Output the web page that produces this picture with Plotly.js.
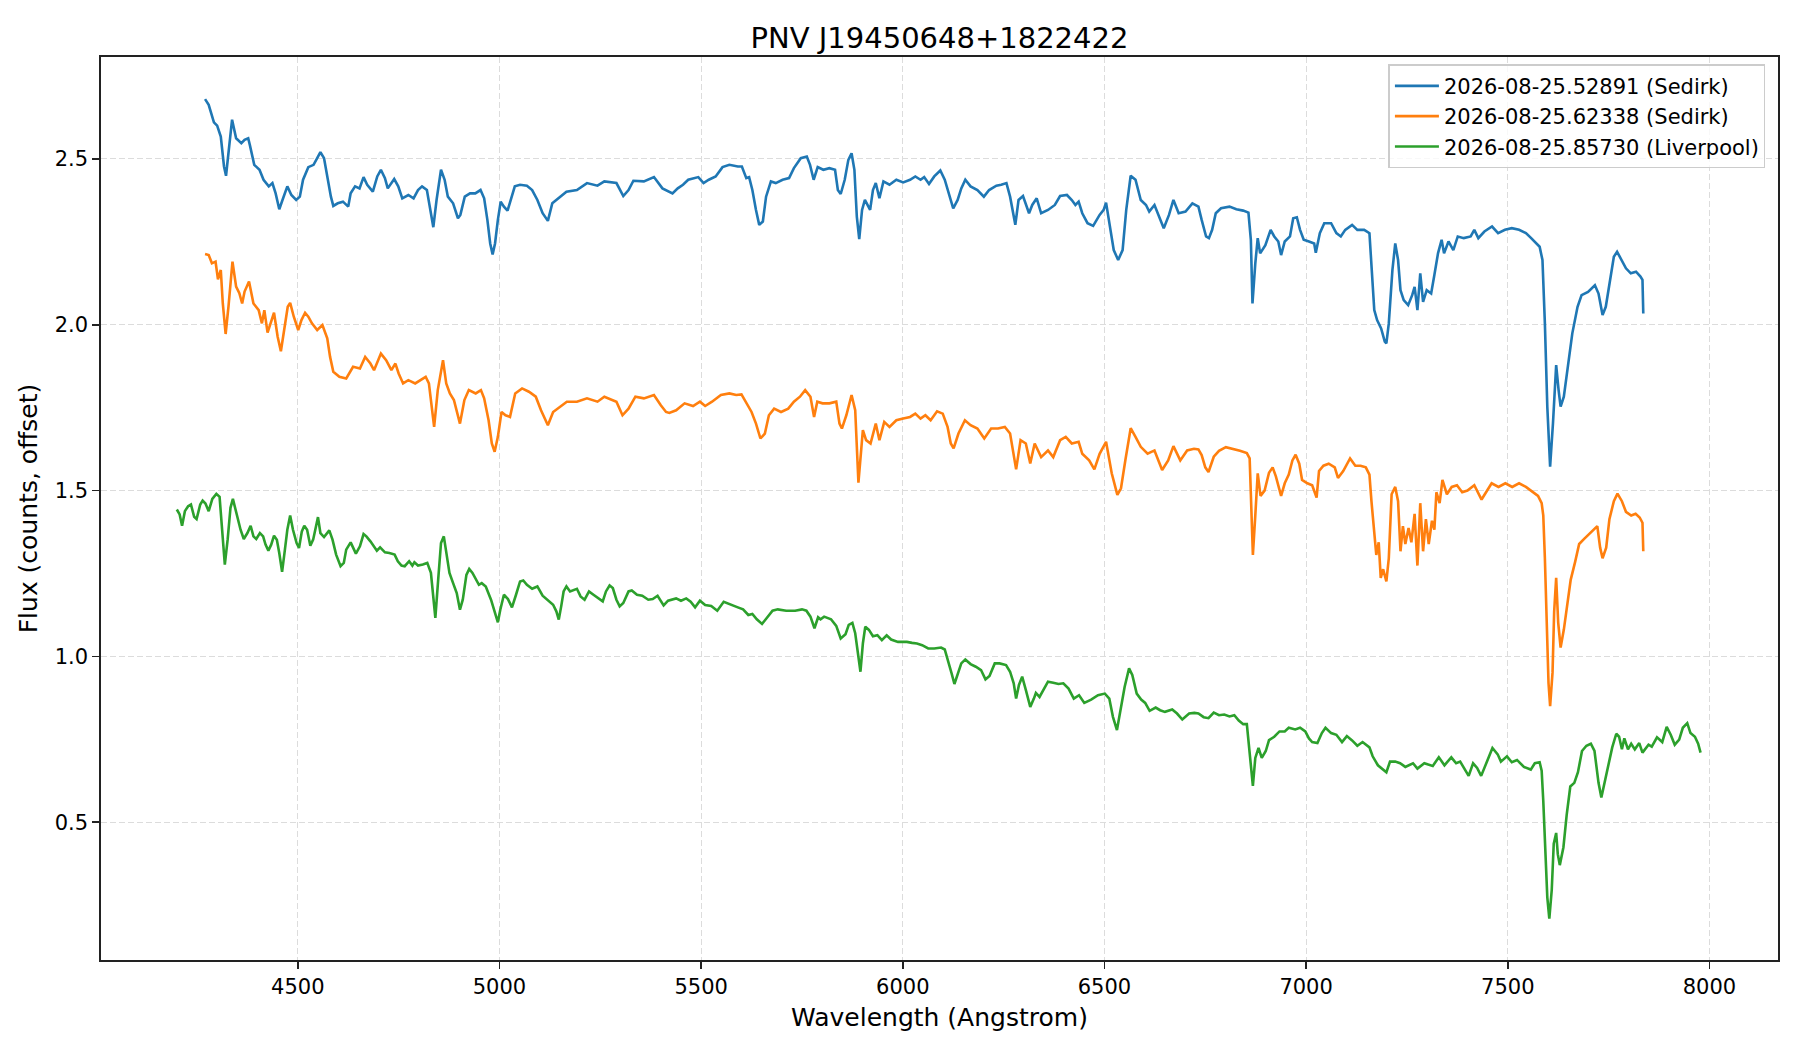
<!DOCTYPE html>
<html>
<head>
<meta charset="utf-8">
<script src="https://cdn.plot.ly/plotly-3.0.1.min.js"></script>
<style>
  body { margin: 0; background: #fff; }
  #chart { width: 1800px; height: 1050px; }
</style>
</head>
<body>
<div id="chart"></div>
<script>
// spectra: wavelength (Angstrom) and offset flux
const seriesNames = [
    "2026-08-25.52891 (Sedirk)",
    "2026-08-25.62338 (Sedirk)",
    "2026-08-25.85730 (Liverpool)",
];

const blueWave = [4270,4279,4292,4300,4309,4317,4322,4329,4337,4347,4360,4368,4377,4381,4392,4405,4415,4428,4437,4445,4454,4462,4474,4484,4496,4505,4513,4526,4539,4548,4556,4565,4573,4582,4588,4599,4612,4625,4631,4642,4653,4663,4672,4686,4697,4706,4716,4723,4739,4749,4759,4774,4787,4798,4808,4820,4830,4836,4844,4855,4864,4872,4885,4897,4903,4914,4927,4940,4953,4962,4970,4977,4983,4989,4996,5003,5011,5020,5028,5038,5051,5068,5081,5094,5107,5120,5131,5145,5166,5192,5217,5243,5260,5290,5307,5320,5332,5358,5383,5404,5429,5442,5455,5468,5480,5493,5506,5519,5536,5553,5570,5591,5601,5612,5619,5627,5636,5644,5653,5661,5673,5685,5702,5718,5730,5747,5762,5770,5779,5789,5803,5818,5832,5839,5846,5856,5865,5873,5880,5886,5892,5899,5906,5919,5926,5933,5942,5952,5967,5984,6001,6018,6031,6044,6053,6065,6078,6093,6104,6114,6125,6136,6145,6155,6168,6185,6201,6214,6232,6244,6257,6266,6279,6287,6298,6313,6321,6332,6343,6360,6377,6390,6407,6419,6428,6436,6445,6458,6472,6488,6498,6504,6513,6523,6534,6545,6554,6565,6577,6590,6603,6611,6624,6637,6647,6660,6671,6684,6701,6718,6733,6741,6752,6759,6767,6776,6789,6810,6827,6844,6857,6863,6867,6874,6880,6886,6899,6912,6921,6931,6938,6947,6960,6968,6977,6985,6994,7007,7020,7024,7034,7045,7062,7075,7086,7097,7114,7127,7144,7157,7162,7169,7176,7186,7195,7199,7205,7214,7221,7228,7234,7242,7253,7263,7269,7276,7283,7290,7299,7310,7318,7327,7336,7342,7353,7365,7376,7391,7408,7417,7427,7442,7461,7476,7493,7510,7528,7545,7558,7570,7579,7586,7592,7598,7605,7612,7620,7626,7631,7639,7649,7660,7673,7683,7699,7716,7725,7735,7743,7754,7763,7771,7782,7793,7805,7818,7829,7834,7836];
const blueFlux = [2.680,2.663,2.610,2.600,2.567,2.477,2.449,2.527,2.618,2.562,2.547,2.557,2.562,2.542,2.482,2.467,2.437,2.417,2.427,2.396,2.348,2.376,2.417,2.391,2.376,2.386,2.437,2.475,2.482,2.502,2.520,2.502,2.447,2.386,2.358,2.366,2.371,2.356,2.396,2.417,2.411,2.445,2.422,2.401,2.447,2.467,2.442,2.411,2.439,2.417,2.381,2.391,2.381,2.406,2.417,2.406,2.336,2.294,2.376,2.467,2.437,2.386,2.366,2.321,2.331,2.386,2.396,2.396,2.406,2.381,2.316,2.245,2.212,2.245,2.316,2.371,2.356,2.344,2.376,2.417,2.422,2.419,2.406,2.376,2.336,2.313,2.366,2.381,2.401,2.406,2.427,2.419,2.432,2.427,2.388,2.406,2.434,2.432,2.445,2.411,2.396,2.411,2.422,2.437,2.442,2.445,2.427,2.437,2.447,2.475,2.482,2.477,2.477,2.442,2.445,2.406,2.346,2.301,2.311,2.386,2.432,2.427,2.437,2.442,2.472,2.502,2.507,2.482,2.437,2.475,2.467,2.472,2.467,2.406,2.394,2.437,2.497,2.517,2.467,2.326,2.258,2.346,2.376,2.346,2.406,2.427,2.381,2.432,2.422,2.437,2.429,2.437,2.447,2.437,2.445,2.424,2.447,2.465,2.437,2.396,2.351,2.376,2.411,2.437,2.417,2.406,2.386,2.406,2.419,2.422,2.427,2.386,2.301,2.376,2.388,2.336,2.361,2.381,2.336,2.346,2.361,2.388,2.391,2.376,2.361,2.371,2.336,2.306,2.298,2.331,2.346,2.368,2.296,2.225,2.195,2.225,2.346,2.449,2.437,2.376,2.361,2.341,2.361,2.321,2.291,2.331,2.376,2.336,2.341,2.366,2.356,2.316,2.266,2.261,2.286,2.336,2.351,2.356,2.348,2.344,2.338,2.256,2.064,2.185,2.261,2.215,2.240,2.286,2.266,2.251,2.210,2.251,2.266,2.321,2.324,2.286,2.256,2.251,2.245,2.217,2.276,2.306,2.306,2.276,2.266,2.286,2.301,2.286,2.286,2.276,2.175,2.044,2.014,1.989,1.949,1.944,2.004,2.165,2.245,2.195,2.104,2.074,2.059,2.089,2.114,2.044,2.155,2.069,2.104,2.094,2.150,2.215,2.256,2.215,2.251,2.225,2.266,2.261,2.266,2.286,2.261,2.281,2.296,2.276,2.286,2.291,2.286,2.276,2.261,2.245,2.235,2.195,2.004,1.753,1.572,1.702,1.878,1.803,1.753,1.783,1.873,1.974,2.054,2.089,2.099,2.119,2.094,2.029,2.054,2.145,2.205,2.220,2.195,2.170,2.155,2.160,2.145,2.135,2.034];

const orangeWave = [4270,4279,4287,4296,4302,4309,4314,4321,4328,4338,4347,4355,4362,4368,4379,4390,4403,4411,4417,4425,4441,4450,4458,4467,4475,4481,4490,4501,4509,4518,4526,4535,4548,4561,4573,4580,4588,4603,4620,4637,4654,4667,4680,4689,4706,4719,4732,4742,4750,4761,4774,4791,4804,4817,4825,4832,4838,4847,4860,4868,4877,4887,4896,4902,4913,4924,4941,4954,4962,4973,4981,4988,4996,5005,5015,5026,5039,5056,5073,5090,5103,5120,5133,5150,5167,5192,5217,5243,5260,5290,5305,5320,5337,5358,5383,5400,5413,5421,5438,5459,5480,5497,5510,5527,5549,5570,5587,5600,5613,5625,5636,5647,5658,5668,5681,5698,5716,5730,5745,5758,5771,5780,5788,5801,5818,5835,5843,5849,5860,5873,5882,5886,5890,5901,5909,5920,5933,5942,5954,5967,5984,6001,6018,6031,6044,6056,6069,6085,6099,6111,6119,6126,6138,6154,6168,6185,6202,6219,6236,6253,6266,6281,6292,6305,6316,6327,6343,6360,6373,6390,6404,6419,6436,6445,6462,6475,6488,6504,6518,6532,6541,6552,6565,6577,6590,6607,6624,6643,6658,6671,6688,6705,6722,6733,6741,6750,6758,6771,6784,6801,6819,6836,6853,6860,6863,6868,6874,6880,6887,6897,6908,6917,6925,6931,6938,6947,6957,6966,6974,6983,6990,7003,7015,7026,7032,7043,7056,7071,7079,7092,7109,7122,7135,7148,7157,7162,7169,7174,7180,7185,7191,7199,7205,7212,7221,7228,7234,7240,7246,7254,7261,7269,7276,7283,7290,7297,7304,7312,7318,7323,7331,7338,7349,7361,7374,7387,7400,7417,7435,7448,7460,7477,7494,7511,7528,7545,7563,7575,7584,7588,7592,7597,7601,7605,7611,7615,7620,7625,7631,7639,7648,7656,7667,7677,7690,7703,7714,7722,7729,7735,7744,7752,7763,7772,7783,7793,7806,7817,7827,7834,7836];
const orangeFlux = [2.213,2.210,2.185,2.190,2.137,2.165,2.064,1.972,2.054,2.190,2.115,2.095,2.064,2.100,2.130,2.064,2.044,2.004,2.044,1.976,2.036,1.964,1.920,1.984,2.054,2.066,2.024,1.984,2.014,2.036,2.024,2.004,1.984,1.999,1.959,1.903,1.858,1.843,1.838,1.873,1.868,1.903,1.883,1.863,1.913,1.893,1.863,1.883,1.853,1.823,1.833,1.823,1.833,1.843,1.823,1.742,1.692,1.803,1.893,1.823,1.793,1.773,1.732,1.702,1.773,1.803,1.793,1.803,1.778,1.712,1.642,1.617,1.662,1.737,1.727,1.722,1.793,1.808,1.798,1.783,1.742,1.697,1.737,1.752,1.768,1.768,1.778,1.768,1.783,1.768,1.727,1.747,1.783,1.778,1.788,1.757,1.737,1.734,1.742,1.763,1.755,1.768,1.755,1.768,1.788,1.793,1.788,1.790,1.763,1.737,1.702,1.657,1.672,1.727,1.747,1.737,1.747,1.768,1.783,1.803,1.783,1.722,1.768,1.763,1.763,1.768,1.702,1.687,1.727,1.788,1.742,1.642,1.524,1.682,1.652,1.642,1.702,1.652,1.707,1.692,1.712,1.717,1.722,1.732,1.717,1.727,1.712,1.739,1.732,1.692,1.642,1.627,1.672,1.712,1.697,1.687,1.657,1.687,1.687,1.692,1.672,1.564,1.652,1.642,1.582,1.642,1.601,1.621,1.601,1.652,1.662,1.642,1.647,1.611,1.591,1.564,1.611,1.647,1.552,1.487,1.507,1.593,1.688,1.662,1.632,1.611,1.621,1.562,1.591,1.634,1.591,1.621,1.626,1.624,1.607,1.570,1.556,1.602,1.620,1.631,1.626,1.620,1.613,1.597,1.489,1.306,1.425,1.552,1.484,1.500,1.554,1.570,1.543,1.516,1.484,1.522,1.548,1.591,1.608,1.581,1.532,1.522,1.516,1.479,1.559,1.575,1.581,1.570,1.538,1.559,1.597,1.575,1.575,1.570,1.548,1.468,1.360,1.306,1.344,1.237,1.263,1.226,1.296,1.489,1.511,1.468,1.317,1.393,1.339,1.387,1.344,1.430,1.274,1.462,1.317,1.414,1.339,1.409,1.382,1.495,1.462,1.532,1.489,1.511,1.516,1.495,1.500,1.516,1.473,1.500,1.522,1.511,1.522,1.511,1.522,1.511,1.495,1.484,1.462,1.425,1.296,1.081,0.920,0.850,0.952,1.135,1.237,1.102,1.027,1.081,1.167,1.231,1.285,1.339,1.355,1.371,1.382,1.393,1.328,1.296,1.328,1.414,1.468,1.491,1.468,1.436,1.425,1.430,1.419,1.403,1.317];

const greenWave = [4200,4207,4213,4220,4228,4235,4243,4249,4258,4264,4271,4279,4288,4298,4306,4313,4319,4326,4333,4339,4347,4358,4366,4375,4383,4390,4397,4406,4414,4420,4427,4434,4441,4448,4454,4461,4467,4474,4481,4488,4497,4503,4510,4516,4523,4531,4538,4545,4550,4556,4565,4578,4586,4595,4606,4614,4620,4631,4639,4644,4654,4663,4670,4680,4696,4704,4716,4727,4740,4748,4757,4765,4776,4784,4789,4798,4810,4821,4830,4836,4841,4848,4855,4862,4870,4876,4885,4894,4902,4909,4918,4925,4933,4940,4949,4956,4966,4979,4987,4996,5002,5011,5021,5031,5041,5051,5059,5068,5081,5094,5107,5120,5133,5141,5147,5153,5159,5166,5175,5192,5201,5211,5222,5233,5247,5256,5264,5273,5281,5290,5298,5307,5320,5328,5341,5354,5369,5380,5392,5407,5418,5429,5438,5450,5463,5474,5485,5497,5510,5525,5540,5556,5574,5591,5604,5617,5627,5638,5651,5664,5677,5690,5711,5733,5750,5761,5771,5781,5790,5796,5805,5822,5835,5846,5858,5866,5875,5882,5889,5895,5901,5907,5916,5926,5937,5948,5960,5971,5988,6010,6023,6035,6048,6063,6078,6095,6104,6112,6121,6128,6136,6145,6155,6168,6181,6194,6205,6215,6228,6240,6256,6266,6275,6281,6288,6296,6305,6316,6325,6330,6339,6350,6360,6373,6386,6398,6411,6424,6437,6450,6467,6484,6501,6512,6521,6531,6539,6550,6561,6569,6580,6591,6601,6612,6627,6638,6650,6668,6680,6693,6710,6723,6733,6746,6758,6771,6784,6797,6810,6822,6833,6844,6853,6861,6868,6874,6882,6890,6900,6908,6921,6934,6947,6957,6973,6985,6998,7007,7015,7028,7039,7048,7062,7075,7089,7101,7114,7127,7140,7157,7165,7178,7191,7199,7208,7221,7233,7246,7265,7276,7293,7314,7329,7343,7360,7372,7382,7392,7403,7414,7424,7434,7447,7462,7475,7483,7498,7510,7523,7540,7557,7567,7579,7584,7588,7592,7598,7603,7609,7614,7620,7624,7629,7638,7646,7655,7665,7674,7684,7695,7706,7715,7725,7732,7740,7751,7759,7769,7776,7783,7789,7798,7806,7815,7826,7834,7849,7857,7870,7883,7894,7904,7914,7925,7934,7945,7953,7964,7972,7978];
const greenFlux = [1.443,1.428,1.394,1.438,1.453,1.458,1.421,1.414,1.458,1.470,1.461,1.438,1.475,1.490,1.481,1.382,1.277,1.352,1.448,1.475,1.433,1.382,1.354,1.372,1.394,1.362,1.354,1.372,1.362,1.337,1.319,1.337,1.364,1.352,1.312,1.255,1.312,1.382,1.425,1.382,1.342,1.327,1.377,1.394,1.382,1.334,1.352,1.392,1.420,1.372,1.360,1.380,1.352,1.307,1.272,1.282,1.322,1.344,1.322,1.310,1.332,1.369,1.362,1.347,1.319,1.329,1.314,1.312,1.307,1.287,1.274,1.272,1.287,1.274,1.284,1.274,1.277,1.282,1.252,1.176,1.116,1.231,1.342,1.362,1.302,1.252,1.221,1.191,1.141,1.171,1.246,1.264,1.252,1.236,1.216,1.221,1.211,1.171,1.136,1.103,1.141,1.186,1.173,1.148,1.186,1.226,1.229,1.216,1.204,1.211,1.183,1.168,1.156,1.136,1.111,1.151,1.196,1.211,1.196,1.204,1.181,1.171,1.196,1.186,1.173,1.166,1.196,1.214,1.206,1.171,1.151,1.161,1.196,1.199,1.186,1.183,1.171,1.173,1.183,1.154,1.168,1.171,1.175,1.168,1.175,1.165,1.148,1.168,1.155,1.152,1.138,1.165,1.155,1.148,1.142,1.125,1.128,1.112,1.098,1.118,1.138,1.142,1.138,1.138,1.142,1.138,1.120,1.085,1.118,1.112,1.120,1.112,1.092,1.054,1.067,1.095,1.101,1.070,0.999,0.954,1.039,1.090,1.080,1.061,1.064,1.049,1.064,1.051,1.044,1.044,1.041,1.039,1.034,1.024,1.024,1.027,1.021,0.989,0.949,0.917,0.949,0.979,0.991,0.977,0.969,0.959,0.931,0.941,0.979,0.979,0.974,0.954,0.919,0.873,0.914,0.939,0.899,0.848,0.873,0.890,0.878,0.903,0.924,0.921,0.917,0.919,0.903,0.873,0.883,0.860,0.870,0.883,0.888,0.873,0.818,0.778,0.828,0.908,0.964,0.944,0.888,0.870,0.860,0.836,0.846,0.838,0.833,0.840,0.828,0.810,0.828,0.830,0.828,0.817,0.814,0.831,0.823,0.825,0.819,0.823,0.807,0.796,0.796,0.705,0.610,0.694,0.724,0.694,0.715,0.748,0.758,0.774,0.774,0.785,0.780,0.785,0.774,0.753,0.742,0.739,0.769,0.785,0.769,0.764,0.742,0.760,0.747,0.731,0.742,0.726,0.699,0.672,0.659,0.651,0.683,0.683,0.678,0.667,0.678,0.662,0.678,0.670,0.696,0.672,0.696,0.678,0.683,0.662,0.640,0.678,0.664,0.640,0.678,0.724,0.705,0.683,0.699,0.681,0.688,0.667,0.659,0.678,0.681,0.656,0.565,0.436,0.274,0.210,0.296,0.436,0.468,0.404,0.371,0.425,0.522,0.608,0.619,0.651,0.715,0.731,0.737,0.715,0.619,0.575,0.619,0.678,0.726,0.767,0.758,0.720,0.753,0.720,0.737,0.720,0.739,0.710,0.734,0.728,0.756,0.742,0.788,0.764,0.734,0.749,0.785,0.799,0.769,0.758,0.737,0.710];

const colors = ["#1f77b4", "#ff7f0e", "#2ca02c"];

const font = "DejaVu Sans, sans-serif";
const ink = "#222222";

let traces = [
    { x: blueWave, y: blueFlux },
    { x: orangeWave, y: orangeFlux },
    { x: greenWave, y: greenFlux },
].map(function (s, i) {
    return {
        x: s.x,
        y: s.y,
        type: "scatter",
        mode: "lines",
        name: seriesNames[i],
        line: { color: colors[i], width: 2.6 },
    };
});

let axisStyle = {
    showline: true,
    mirror: true,
    linecolor: ink,
    linewidth: 1.7,
    ticks: "outside",
    ticklen: 7,
    tickwidth: 1.7,
    tickcolor: ink,
    showgrid: true,
    gridcolor: "#dcdcdc",
    gridwidth: 1.2,
    griddash: "6px,3px",
    zeroline: false,
    tickfont: { family: font, size: 21, color: "#000" },
};

let layout = {
    width: 1800,
    height: 1050,
    margin: { l: 101, r: 22, t: 57, b: 90 },
    paper_bgcolor: "#fff",
    plot_bgcolor: "#fff",
    font: { family: font, color: "#000" },
    title: {
        text: "PNV J19450648+1822422",
        font: { family: font, size: 29, color: "#000" },
        x: 0.5,
        xref: "paper",
        y: 1,
        yref: "paper",
        yanchor: "bottom",
        pad: { b: 9 },
    },
    xaxis: Object.assign({}, axisStyle, {
        range: [4012, 8170],
        tick0: 4500,
        dtick: 500,
        title: { text: "Wavelength (Angstrom)", font: { family: font, size: 25 }, standoff: 10 },
    }),
    yaxis: Object.assign({}, axisStyle, {
        range: [0.085, 2.807],
        tick0: 0.5,
        dtick: 0.5,
        tickformat: ".1f",
        title: { text: "Flux (counts, offset)", font: { family: font, size: 25 }, standoff: 10 },
    }),
    showlegend: true,
    legend: {
        x: 0.9925,
        xanchor: "right",
        y: 0.992,
        yanchor: "top",
        itemwidth: 44,
        bgcolor: "rgba(255,255,255,0.8)",
        bordercolor: "#cccccc",
        borderwidth: 1.5,
        font: { family: font, size: 21, color: "#000" },
    },
};

Plotly.newPlot("chart", traces, layout, { displayModeBar: false, staticPlot: true });
</script>
</body>
</html>
